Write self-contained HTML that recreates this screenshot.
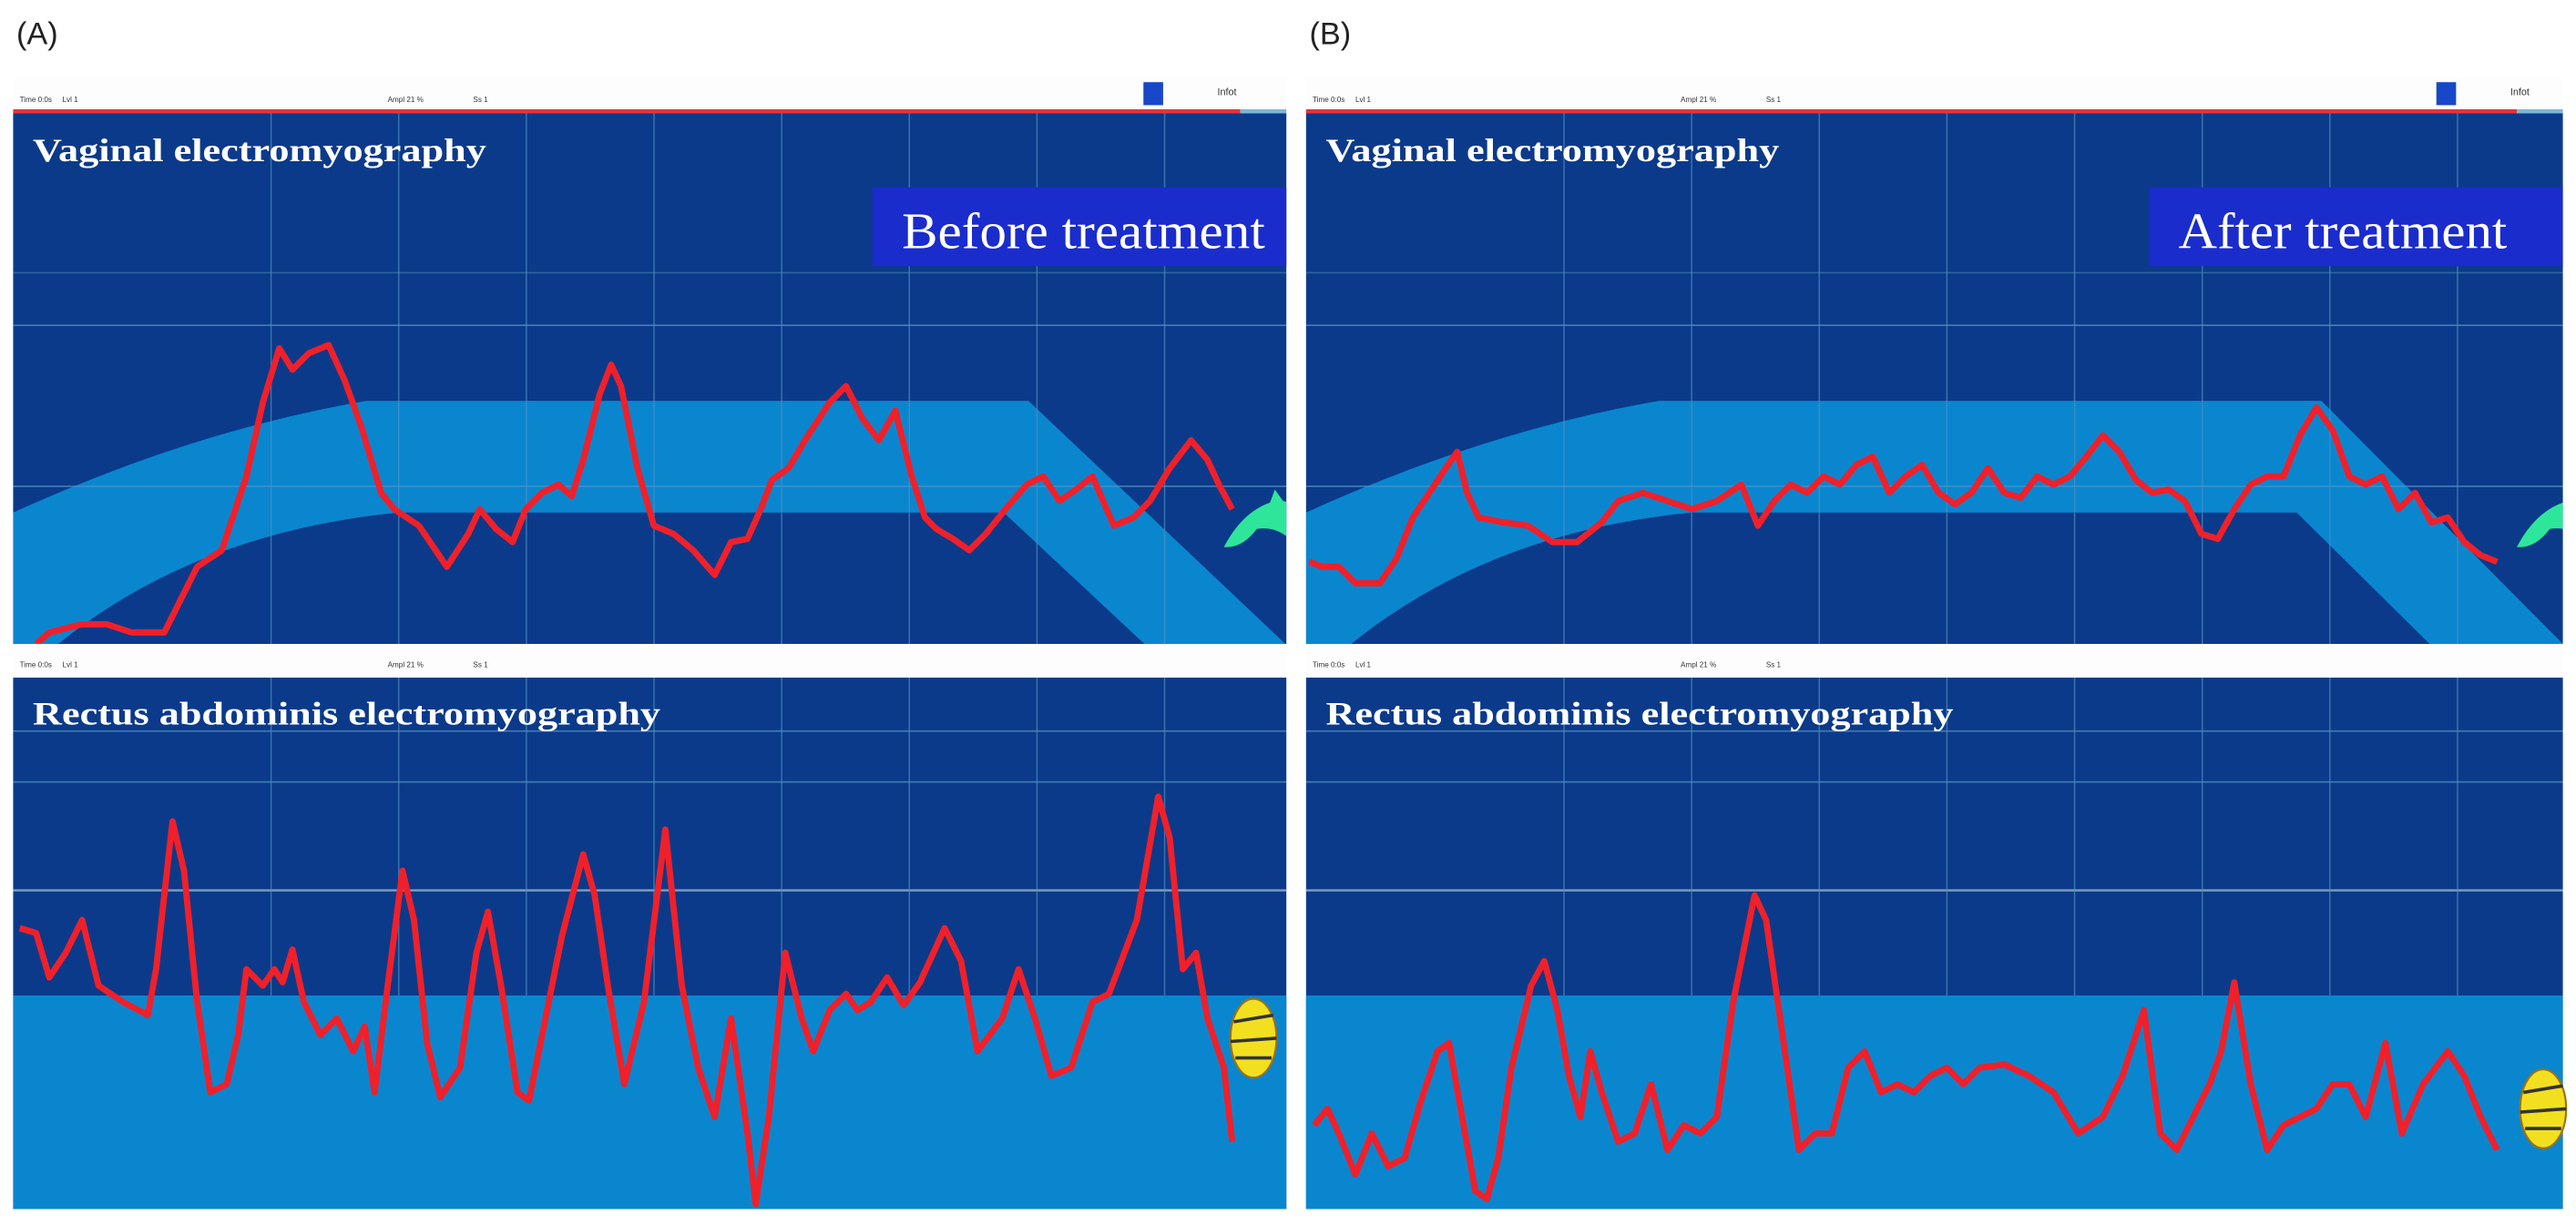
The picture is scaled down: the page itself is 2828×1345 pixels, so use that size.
<!DOCTYPE html>
<html><head><meta charset="utf-8"><style>
html,body{margin:0;padding:0;background:#fff;}
svg{display:block;}
</style></head><body>
<svg id="fig" width="2828" height="1345" viewBox="0 0 1568 745.7" xmlns="http://www.w3.org/2000/svg">
<rect x="0" y="0" width="1568" height="745.7" fill="#fff"/>
<g id="panels"></g>
</svg>
<script>
// ---- data (time ticks, amplitude units) ----
const aTopTime = [14,22,42,57,72,92,102,112,127,132,142,152,162,170,180,192,202,212,224,232,247,264,277,284,294,304,312,322,332,340,347,357,364,370,380,390,402,414,427,437,447,455,462,472,482,497,507,517,527,537,547,555,562,572,582,592,604,617,627,637,647,657,670,682,692,704,717,727,734,742];
const aTopAmp = [0,7,12,12,7,7,27,47,57,72,102,147,180,167,177,182,160,132,92,82,72,47,67,82,70,62,82,92,97,90,112,152,170,157,107,72,67,57,42,62,64,82,100,107,124,147,157,137,124,142,102,77,70,64,57,67,82,97,102,87,94,102,72,77,87,107,124,112,97,82];
const bTopTime = [2,10,20,30,45,55,65,75,85,92,98,105,120,135,150,165,180,190,205,220,235,250,265,275,285,295,305,315,325,335,345,355,365,375,385,395,405,415,425,435,445,455,465,475,485,495,505,515,525,535,545,555,565,575,585,595,605,615,625,635,645,655,665,675,685,695,705,715,725];
const bTopAmp = [50,47,47,37,37,52,77,92,107,117,92,77,74,72,62,62,74,87,92,87,82,87,97,72,87,97,92,102,97,109,114,92,102,109,92,85,92,107,92,89,102,97,102,114,127,117,100,92,94,87,67,64,82,97,102,102,127,144,130,102,97,102,82,92,74,77,62,54,50];
const aBotTime = [4,14,22,32,42,52,67,82,87,97,104,112,120,130,137,142,152,159,164,170,177,187,197,207,214,220,228,237,244,252,260,272,282,289,297,307,314,322,334,347,354,362,372,384,397,407,417,427,437,447,452,460,470,480,487,497,507,514,522,532,542,552,567,577,587,602,612,622,632,644,657,667,684,697,704,712,720,727,737,742];
const aBotAmp = [171,168,141,156,176,136,126,118,146,236,206,126,71,76,106,146,136,146,138,158,126,106,116,96,111,71,136,206,176,101,68,86,156,181,136,71,66,106,166,216,191,136,76,126,231,136,86,56,116,46,3,56,156,116,96,121,131,121,126,141,124,138,171,151,96,116,146,116,81,86,126,131,176,251,226,146,156,116,86,41];
const bBotTime = [5,13,20,30,40,50,60,70,80,87,95,103,110,117,125,137,145,153,160,167,173,180,190,200,210,220,230,240,250,260,273,280,290,300,310,320,330,340,350,360,370,380,390,400,410,425,440,455,470,485,497,510,520,530,540,550,557,565,575,585,595,605,615,625,635,645,657,667,680,695,705,715,725];
const bBotAmp = [51,61,46,21,46,26,31,66,96,101,56,11,6,31,86,136,151,121,81,56,96,71,41,46,76,36,51,46,56,126,191,176,106,36,46,46,86,96,71,76,71,81,86,76,86,88,81,71,46,56,81,121,46,36,56,76,96,138,76,36,51,56,61,76,76,56,101,46,76,96,81,56,36];
const panelLabels = ["(A)","(B)"];
const badgeLabels = ["Before treatment","After treatment"];

const NS="http://www.w3.org/2000/svg";
const root=document.getElementById('panels');
function mk(tag,attrs,parent){const e=document.createElementNS(NS,tag);for(const k in attrs)e.setAttribute(k,attrs[k]);(parent||root).appendChild(e);return e;}

const DARK="#0b3a8a", LIGHT="#0a86cf", GRID="#4f8fbf";
function panel(i,x0,w,topT,topA,botT,botA){
  const g=mk('g',{});
  
  
  const lab=mk('text',{x:x0+2,y:27,'font-family':'Liberation Sans, sans-serif','font-size':19,fill:'#222'},g);
  lab.textContent=panelLabels[i];
  
  
  // header strip
  mk('rect',{x:x0,y:47,width:w,height:21,fill:'#fdfdfd'},g);
  const hdr=[["Time 0:0s",4],["Lvl 1",30],["Ampl 21 %",228],["Ss 1",280]];
  hdr.forEach(h=>{const t=mk('text',{x:x0+h[1],y:62,'font-family':'Liberation Sans, sans-serif','font-size':4.5,fill:'#333'},g);t.textContent=h[0];});
  const ic=mk('rect',{x:x0+688,y:50,width:12,height:14,fill:'#1848c8'},g);
  
  
  const inf=mk('text',{x:x0+733,y:58,'font-family':'Liberation Sans, sans-serif','font-size':6,fill:'#333'},g);inf.textContent="Infot";
  mk('rect',{x:x0,y:66.5,width:w-28,height:2.5,fill:'#e8323c'},g);
  mk('rect',{x:x0+w-28,y:66.5,width:28,height:2.5,fill:'#7ab8d8'},g);

  // top chart
  const tTop=69, tBot=392;
  const tx=t=>x0+t, ty=a=>tBot-a;
  mk('rect',{x:x0,y:tTop,width:w,height:tBot-tTop,fill:DARK},g);
  const clipId='clip'+i+'t';
  const cp=mk('clipPath',{id:clipId},g);mk('rect',{x:x0,y:tTop,width:w,height:tBot-tTop},cp);
  const band=mk('path',{d:`M${x0},${ty(80)} Q${x0+110},${ty(130)} ${x0+215},${ty(148)} L${x0+618},${ty(148)} L${x0+w+10},${ty(-10)} L${x0+w+10},${ty(-90)} L${x0+603},${ty(80)} L${x0+235},${ty(80)} Q${x0+110},${ty(68)} ${x0+25},${ty(-2)} L${x0},${ty(-2)} Z`,fill:LIGHT,'clip-path':`url(#${clipId})`},g);
  
  
  [166,198,296].forEach((y,j)=>mk('line',{x1:x0,x2:x0+w,y1:y,y2:y,stroke:GRID,'stroke-width':0.9,opacity:j?0.8:0.5},g));
  for(let k=0;k<8;k++){const x=x0+157+77.7*k;if(x<x0+w)mk('line',{x1:x,x2:x,y1:tTop,y2:tBot,stroke:GRID,'stroke-width':0.8,opacity:0.7},g);}
  const tt=mk('text',{x:x0+12,y:98,'font-family':'Liberation Serif, serif','font-weight':'bold','font-size':20,fill:'#fff',textLength:276,lengthAdjust:'spacingAndGlyphs'},g);
  tt.textContent="Vaginal electromyography";
  
  
  const bx=mk('rect',{x:x0+w-252,y:114,width:252,height:48,fill:'#1a2ccc'},g);
  
  
  const bt=mk('text',{x:x0+w-234,y:151,'font-family':'Liberation Serif, serif','font-size':31,fill:'#fff',textLength:i?200:221,lengthAdjust:'spacingAndGlyphs'},g);
  bt.textContent=badgeLabels[i];
  let d='';topT.forEach((t,j)=>{d+=(j?'L':'M')+tx(t)+','+ty(topA[j]);});
  const tl=mk('path',{d:d,fill:'none',stroke:'#f0202a','stroke-width':3.8,'stroke-linejoin':'round','clip-path':`url(#${clipId})`},g);
  
  
  // dolphin
  const dol=mk('path',{d:`M${x0+737},${333} Q${x0+748},${312} ${x0+765},${306} L${x0+768},${298} L${x0+773},${305} Q${x0+782},${306} ${x0+777},${328} Q${x0+768},${320} ${x0+757},${322} Q${x0+748},${334} ${x0+737},${333} Z`,fill:'#2ee69a','clip-path':`url(#${clipId})`},g);
  
  

  // middle strip
  mk('rect',{x:x0,y:392,width:w,height:20.5,fill:'#fdfdfd'},g);
  hdr.forEach(h=>{const t=mk('text',{x:x0+h[1],y:406,'font-family':'Liberation Sans, sans-serif','font-size':4.5,fill:'#333'},g);t.textContent=h[0];});

  // bottom chart
  const bTop=412.5, bBot=736;
  const by=a=>bBot-a;
  mk('rect',{x:x0,y:bTop,width:w,height:bBot-bTop,fill:DARK},g);
  mk('rect',{x:x0,y:606,width:w,height:bBot-606,fill:LIGHT},g);
  [445,476,542].forEach((y,j)=>mk('line',{x1:x0,x2:x0+w,y1:y,y2:y,stroke:j==2?'#9fb8cc':GRID,'stroke-width':j==2?1.3:0.9,opacity:0.8},g));
  for(let k=0;k<8;k++){const x=x0+157+77.7*k;if(x<x0+w)mk('line',{x1:x,x2:x,y1:bTop,y2:606,stroke:GRID,'stroke-width':0.8,opacity:0.7},g);}
  const rt=mk('text',{x:x0+12,y:441,'font-family':'Liberation Serif, serif','font-weight':'bold','font-size':20,fill:'#fff',textLength:382,lengthAdjust:'spacingAndGlyphs'},g);
  rt.textContent="Rectus abdominis electromyography";
  
  
  let d2='';botT.forEach((t,j)=>{d2+=(j?'L':'M')+tx(t)+','+by(botA[j]);});
  const bl=mk('path',{d:d2,fill:'none',stroke:'#f0202a','stroke-width':3.8,'stroke-linejoin':'round'},g);
  
  
  // fish
  const fx=x0+(i?735:737), fy=i?675:632;
  const fish=mk('ellipse',{cx:fx+18,cy:fy,rx:14,ry:24,fill:'#f2e020',stroke:'#a07010','stroke-width':1.2},g);
  
  
  mk('path',{d:`M${fx+6},${fy-10} L${fx+30},${fy-14} M${fx+4},${fy+2} L${fx+32},${fy} M${fx+7},${fy+12} L${fx+29},${fy+12}`,stroke:'#333','stroke-width':2},g);
}
panel(0,8,775,aTopTime,aTopAmp,aBotTime,aBotAmp);
panel(1,795,765,bTopTime,bTopAmp,bBotTime,bBotAmp);
</script>
</body></html>
